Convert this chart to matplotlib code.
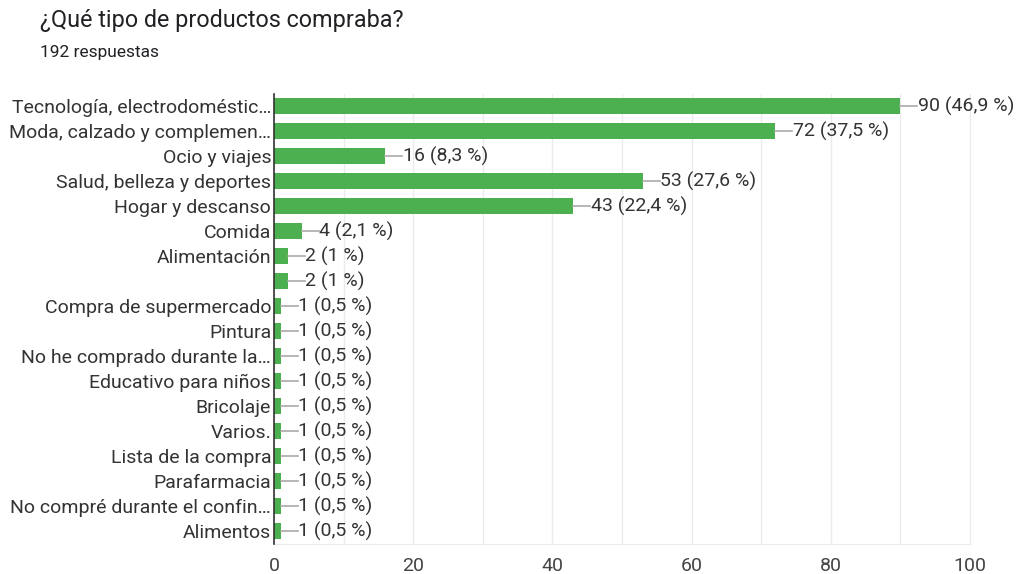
import matplotlib.pyplot as plt
import numpy as np

plt.rcParams['font.family'] = ['Roboto', 'DejaVu Sans']

categories = [
    "Tecnología, electrodoméstic…",
    "Moda, calzado y complemen…",
    "Ocio y viajes",
    "Salud, belleza y deportes",
    "Hogar y descanso",
    "Comida",
    "Alimentación",
    "",
    "Compra de supermercado",
    "Pintura",
    "No he comprado durante la…",
    "Educativo para niños",
    "Bricolaje",
    "Varios.",
    "Lista de la compra",
    "Parafarmacia",
    "No compré durante el confin…",
    "Alimentos",
]
counts = [90, 72, 16, 53, 43, 4, 2, 2, 1, 1, 1, 1, 1, 1, 1, 1, 1, 1]
percents = ["46,9", "37,5", "8,3", "27,6", "22,4", "2,1", "1", "1",
            "0,5", "0,5", "0,5", "0,5", "0,5", "0,5", "0,5", "0,5", "0,5", "0,5"]
xticks = [0, 20, 40, 60, 80, 100]

green = '#4caf50'
text_col = '#333333'

fig = plt.figure(figsize=(10.19, 5.74), dpi=100)
ax = fig.add_axes([274 / 1019, 1 - 543.5 / 574, 696 / 1019, 450 / 574])

y = np.arange(len(categories))
ax.barh(y, counts, height=0.64, color=green, zorder=3)

for yi, c, p in zip(y, counts, percents):
    ax.plot([c, c + 2.4], [yi, yi], color='#aaaaaa', lw=1.2, zorder=3)
    ax.text(c + 2.5, yi, f"{c} ({p} %)", va='center', ha='left',
            fontsize=14, color=text_col, zorder=4)

ax.set_xlim(0, 100)
ax.set_ylim(len(categories) - 0.5, -0.5)
ax.set_yticks(y)
ax.set_yticklabels(categories, fontsize=14, color=text_col)
ax.set_xticks(xticks)
ax.set_xticklabels([str(t) for t in xticks], fontsize=14, color='#444444')
ax.set_xticks(np.arange(0, 101, 10), minor=True)
ax.tick_params(axis='both', which='both', length=0)
ax.tick_params(axis='y', pad=2)
ax.tick_params(axis='x', pad=10)
ax.grid(axis='x', which='both', color='#ebebeb', lw=1, zorder=0)

ax.spines['top'].set_visible(False)
ax.spines['right'].set_color('#ebebeb')
ax.spines['bottom'].set_color('#ebebeb')
ax.spines['left'].set_color('#333333')
ax.spines['left'].set_linewidth(1.2)
ax.spines['left'].set_zorder(5)

fig.text(40 / 1019, 1 - 20 / 574, "¿Qué tipo de productos compraba?",
         fontsize=16.8, color='#202124', va='center', ha='left')
fig.text(40 / 1019, 1 - 52 / 574, "192 respuestas",
         fontsize=12.5, color='#202124', va='center', ha='left')

fig.savefig('out.png', dpi=100)
